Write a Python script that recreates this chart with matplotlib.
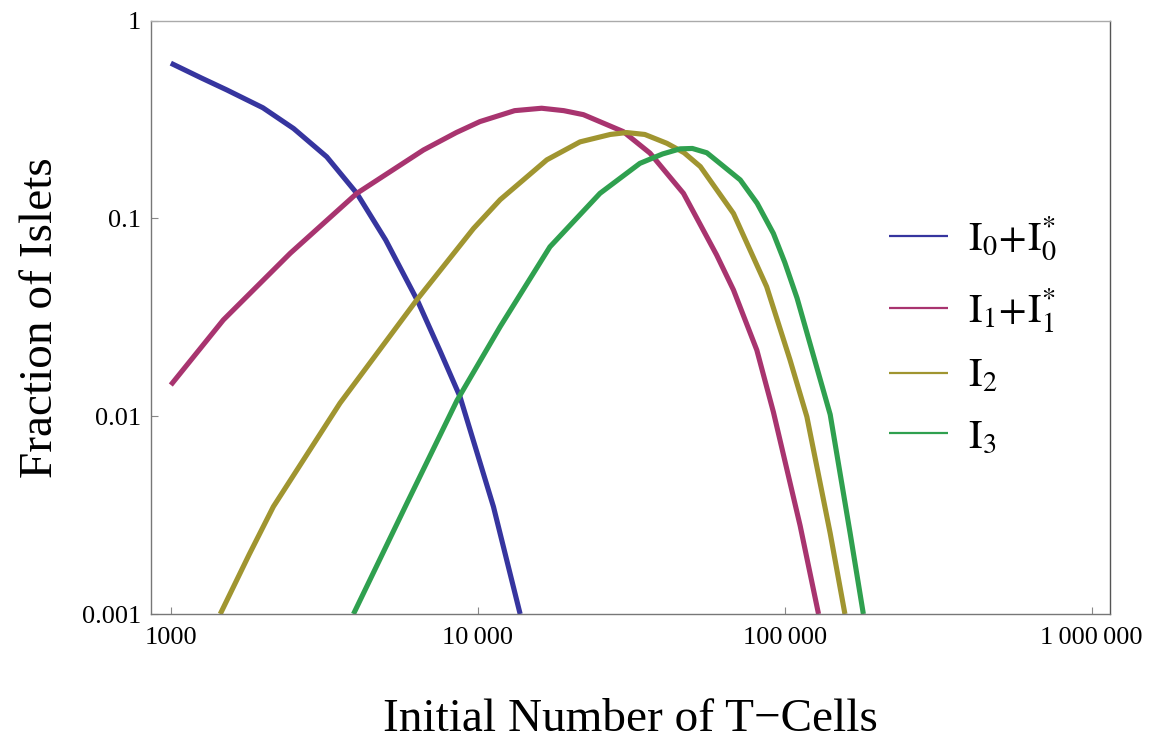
import matplotlib
matplotlib.use("Agg")
import matplotlib.pyplot as plt
from matplotlib.ticker import FixedLocator, FixedFormatter, NullLocator

plt.rcParams['font.family'] = ['Liberation Serif', 'DejaVu Serif']
plt.rcParams['mathtext.fontset'] = 'stix'

# islet fractions vs. initial T-cell count (log-log)
x_i0 = [1000, 1259, 1521, 1995, 2512, 3221, 4036, 5012, 6383, 7534, 8750,
        11246, 12417, 13740]
y_i0 = [0.610, 0.513, 0.447, 0.363, 0.285, 0.205, 0.134, 0.0778, 0.0380, 0.0214,
        0.01256, 0.00349, 0.00188, 0.0010]

x_i1 = [1000, 1483, 2449, 4036, 6653, 8511, 10162, 13183, 16144, 19055, 22080,
        29785, 36392, 46774, 59979, 68077, 81096, 91833, 112202, 128825]
y_i1 = [0.01439, 0.0307, 0.0667, 0.134, 0.222, 0.272, 0.309, 0.351, 0.361, 0.351,
        0.335, 0.275, 0.214, 0.134, 0.0654, 0.0435, 0.0216, 0.0105, 0.00280, 0.0010]

x_i2 = [1449, 1800, 2158, 3556, 6324, 9683, 11830, 16788, 21528, 27000, 30549, 35000,
        41305, 47000, 53088, 68077, 87297, 103992, 118032, 140605, 157036]
y_i2 = [0.0010, 0.0020, 0.00349, 0.01164, 0.0387, 0.089, 0.1245, 0.198, 0.244, 0.266,
        0.272, 0.266, 0.240, 0.215, 0.183, 0.106, 0.0452, 0.0193, 0.00995, 0.00256,
        0.0010]

x_i3 = [3936, 5875, 8551, 11830, 17179, 25003, 33729, 40000, 45604, 50000, 55719,
        62000, 71614, 81283, 91833, 100000, 109648, 140605, 163305, 180303]
y_i3 = [0.0010, 0.00363, 0.0120, 0.0284, 0.0719, 0.134, 0.190, 0.212, 0.225, 0.226,
        0.215, 0.188, 0.1567, 0.1194, 0.084, 0.060, 0.0396, 0.0102, 0.00256, 0.0010]

labels = [r'$\mathrm{I}_0\!+\!\mathrm{I}_0^{*}$', r'$\mathrm{I}_1\!+\!\mathrm{I}_1^{*}$',
          r'$\mathrm{I}_2$', r'$\mathrm{I}_3$']
colors = ['#36359f', '#a8346f', '#a09530', '#2fa04f']

x_ticks = [1000, 10000, 100000, 1000000]
x_ticklabels = ['1000', '10\u2009000', '100\u2009000', '1\u2009000\u2009000']
y_ticks = [0.001, 0.01, 0.1, 1]
y_ticklabels = ['0.001', '0.01', '0.1', '1']

fig = plt.figure(figsize=(11.51, 7.43), dpi=100)
ax = fig.add_axes([0.1308, 0.1736, 0.8336, 0.7985])

series = [(x_i0, y_i0), (x_i1, y_i1), (x_i2, y_i2), (x_i3, y_i3)]
for (xs, ys), c, lab in zip(series, colors, labels):
    ax.plot(xs, ys, color=c, lw=3.7, label=lab, solid_capstyle='butt',
            solid_joinstyle='round')

ax.set_xscale('log')
ax.set_yscale('log')
ax.set_xlim(859, 1.147e6)
ax.set_ylim(0.001, 1)

ax.xaxis.set_major_locator(FixedLocator(x_ticks))
ax.xaxis.set_major_formatter(FixedFormatter(x_ticklabels))
ax.xaxis.set_minor_locator(NullLocator())
ax.yaxis.set_major_locator(FixedLocator(y_ticks))
ax.yaxis.set_major_formatter(FixedFormatter(y_ticklabels))
ax.yaxis.set_minor_locator(NullLocator())

ax.tick_params(axis='both', direction='in', length=5, width=0.8, color='#888888',
               labelsize=19)
ax.tick_params(axis='x', pad=9)
ax.tick_params(axis='y', pad=7)

for side, col in [('left', '#777777'), ('bottom', '#777777'),
                  ('top', '#aaaaaa'), ('right', '#555555')]:
    ax.spines[side].set_color(col)
    ax.spines[side].set_linewidth(1.0)

ax.set_xlabel('Initial Number of T\u2212Cells', fontsize=34, labelpad=36)
ax.set_ylabel('Fraction of Islets', fontsize=34, labelpad=14)

leg = ax.legend(loc='upper left', bbox_to_anchor=(0.753, 0.70), frameon=False,
                fontsize=29, handlelength=1.45, handletextpad=0.5,
                labelspacing=0.58, borderaxespad=0)
for ln in leg.get_lines():
    ln.set_linewidth(1.6)

fig.savefig('out.png', dpi=100)
